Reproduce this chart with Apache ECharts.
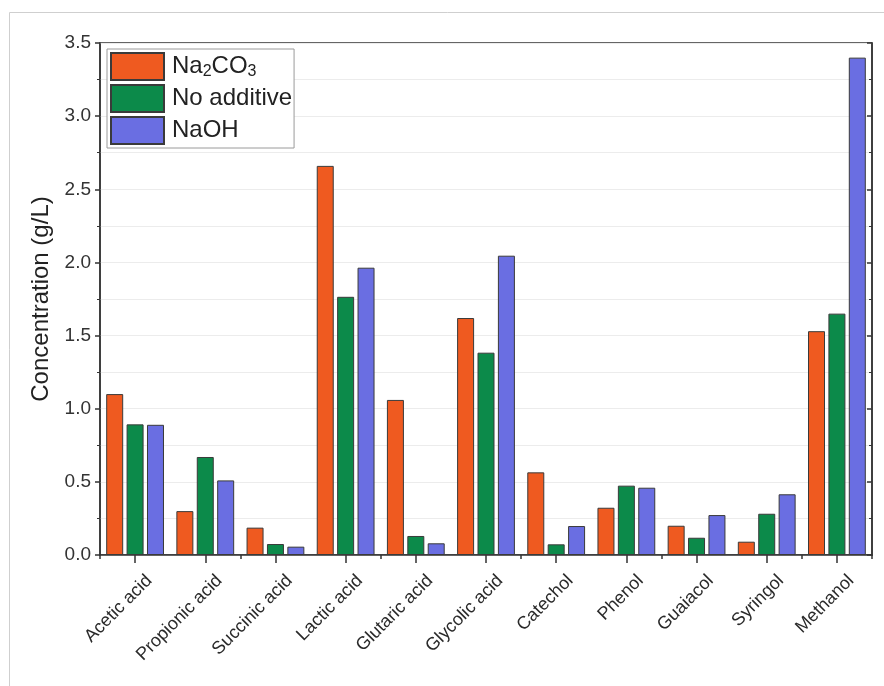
<!DOCTYPE html>
<html>
<head>
<meta charset="utf-8">
<script src="https://cdn.jsdelivr.net/npm/echarts@6/dist/echarts.min.js"></script>
<style>html,body{margin:0;padding:0;background:#fff;}#c{width:884px;height:686px;}</style>
</head>
<body>
<div id="c"></div>
<script>
var categories = ['Acetic acid','Propionic acid','Succinic acid','Lactic acid','Glutaric acid','Glycolic acid','Catechol','Phenol','Guaiacol','Syringol','Methanol'];
var na2co3 = [1.10, 0.30, 0.187, 2.66, 1.06, 1.62, 0.565, 0.323, 0.20, 0.091, 1.53];
var noAdditive = [0.893, 0.67, 0.075, 1.765, 0.13, 1.383, 0.073, 0.474, 0.118, 0.282, 1.65];
var naoh = [0.89, 0.51, 0.057, 1.964, 0.08, 2.046, 0.198, 0.46, 0.273, 0.415, 3.40];
var seriesNames = ['Na2CO3', 'No additive', 'NaOH'];
var yTicks = {min: 0, max: 3.5, interval: 0.5};

var colors = ['#EF5A20', '#0C8A4A', '#6A6EE2'];
var font = 'Liberation Sans, Arial, sans-serif';

var chart = echarts.init(document.getElementById('c'), null, {renderer: 'canvas'});
function barSeries(name, data, idx) {
  return {
    name: name, type: 'bar', data: data, xAxisIndex: 0, yAxisIndex: 0,
    barWidth: 17, barGap: '20%',
    itemStyle: {color: colors[idx], borderColor: '#3a3a3a', borderWidth: 1},
    emphasis: {disabled: true}
  };
}
chart.setOption({
  animation: false,
  backgroundColor: '#fff',
  graphic: [{
    type: 'rect', z: -10, silent: true,
    shape: {x: 9.5, y: 12.5, width: 1000, height: 1000},
    style: {fill: 'none', stroke: '#cfcfcf', lineWidth: 1}
  }],
  grid: {left: 100, top: 43, right: 12, bottom: 131, show: true, borderColor: '#333', borderWidth: 1.5, backgroundColor: 'transparent'},
  legend: {
    orient: 'vertical', left: 107, top: 49,
    padding: [3, 2, 3, 3], itemGap: 3,
    itemWidth: 53, itemHeight: 27, icon: 'rect',
    borderColor: '#9a9a9a', borderWidth: 1, backgroundColor: '#fff',
    data: seriesNames,
    formatter: function (n) { return n === 'Na2CO3' ? '{m|Na}{sub|2}{m|CO}{sub|3}' : n; },
    textStyle: {
      fontFamily: font, fontSize: 24, lineHeight: 27, color: '#222', padding: [0, 0, 0, 3],
      rich: {
        m: {fontFamily: font, fontSize: 24, lineHeight: 27, color: '#222'},
        sub: {fontFamily: font, fontSize: 16, lineHeight: 6, verticalAlign: 'bottom', color: '#222'}
      }
    }
  },
  xAxis: [{
    type: 'category', data: categories, position: 'bottom',
    axisLine: {show: true, lineStyle: {color: '#333', width: 1.5}},
    axisTick: {show: true, alignWithLabel: true, length: 8, lineStyle: {color: '#333', width: 1.5}},
    axisLabel: {rotate: 45, fontFamily: font, fontSize: 18, color: '#2a2a2a', margin: 37, interval: 0, padding: [0, -20, 0, 0]},
    splitLine: {show: false}
  }, {
    type: 'category', data: categories, position: 'bottom',
    axisLine: {show: false},
    axisTick: {show: true, alignWithLabel: false, length: 4, lineStyle: {color: '#333', width: 1.5}},
    axisLabel: {show: false},
    splitLine: {show: false}
  }],
  yAxis: [{
    type: 'value', min: yTicks.min, max: yTicks.max, interval: yTicks.interval, position: 'left',
    name: 'Concentration (g/L)', nameLocation: 'middle', nameGap: 42,
    nameTextStyle: {fontFamily: font, fontSize: 24, color: '#222'},
    axisLine: {show: true, lineStyle: {color: '#333', width: 1.5}},
    axisTick: {show: true, length: 5, lineStyle: {color: '#333', width: 1.5}},
    minorTick: {show: true, splitNumber: 2, length: 3, lineStyle: {color: '#333', width: 1}},
    axisLabel: {fontFamily: font, fontSize: 19, color: '#333', margin: 9, formatter: function (v) { return v.toFixed(1); }},
    splitLine: {show: true, lineStyle: {color: '#ececec', width: 1}},
    minorSplitLine: {show: true, lineStyle: {color: '#ececec', width: 1}}
  }, {
    type: 'value', min: yTicks.min, max: yTicks.max, interval: yTicks.interval, position: 'right',
    axisLine: {show: true, lineStyle: {color: '#333', width: 1.5}},
    axisTick: {show: true, inside: true, length: 5, lineStyle: {color: '#333', width: 1.5}},
    minorTick: {show: true, splitNumber: 2, length: 3, lineStyle: {color: '#333', width: 1}},
    axisLabel: {show: false},
    splitLine: {show: false}
  }],
  series: [
    barSeries(seriesNames[0], na2co3, 0),
    barSeries(seriesNames[1], noAdditive, 1),
    barSeries(seriesNames[2], naoh, 2)
  ]
});
</script>
</body>
</html>
